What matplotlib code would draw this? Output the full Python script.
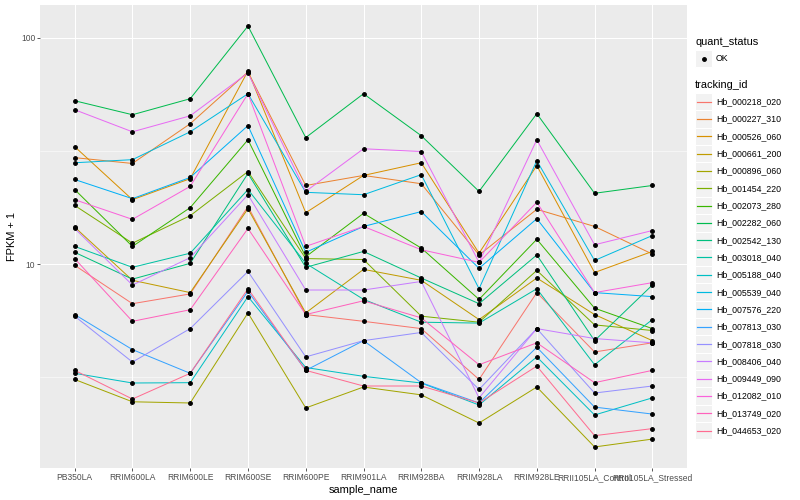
import numpy as np
import matplotlib
matplotlib.use('Agg')
import matplotlib.pyplot as plt
from matplotlib.lines import Line2D
from matplotlib.patches import Rectangle
from matplotlib.ticker import FixedLocator, NullFormatter

plt.rcParams['font.family'] = ['Liberation Sans', 'DejaVu Sans']

samples = ['PB350LA', 'RRIM600LA', 'RRIM600LE', 'RRIM600SE', 'RRIM600PE', 'RRIM901LA',
           'RRIM928BA', 'RRIM928LA', 'RRIM928LE', 'RRII105LA_Control', 'RRII105LA_Stressed']

tracking_ids = ['Hb_000218_020', 'Hb_000227_310', 'Hb_000526_060', 'Hb_000661_200',
                'Hb_000896_060', 'Hb_001454_220', 'Hb_002073_280', 'Hb_002282_060',
                'Hb_002542_130', 'Hb_003018_040', 'Hb_005188_040', 'Hb_005539_040',
                'Hb_007576_220', 'Hb_007813_030', 'Hb_007818_030', 'Hb_008406_040',
                'Hb_009449_090', 'Hb_012082_010', 'Hb_013749_020', 'Hb_044653_020']

# FPKM + 1, one list per gene, in sample order
hb_000218_020 = [9.9, 6.7, 7.4, 18.0, 6.0, 5.6, 5.2, 3.1, 7.5, 4.1, 4.5]
hb_000227_310 = [29.6, 27.9, 41.8, 70.8, 22.3, 24.7, 22.7, 11.0, 17.5, 14.7, 11.1]
hb_000526_060 = [33.1, 19.3, 23.9, 71.5, 16.9, 24.7, 28.1, 11.2, 27.3, 9.2, 11.4]
hb_000661_200 = [14.6, 8.5, 7.5, 17.6, 6.1, 9.5, 8.5, 5.7, 8.7, 6.0, 4.6]
hb_000896_060 = [3.1, 2.47, 2.44, 6.1, 2.32, 2.87, 2.65, 1.99, 2.87, 1.56, 1.69]
hb_001454_220 = [18.2, 12.4, 16.4, 25.7, 10.6, 10.5, 5.9, 5.55, 9.4, 5.4, 5.1]
hb_002073_280 = [21.4, 12.0, 17.8, 35.5, 10.8, 16.8, 11.8, 7.0, 12.9, 6.4, 5.2]
hb_002282_060 = [52.8, 45.8, 53.9, 112.9, 36.3, 56.7, 37.0, 21.0, 46.3, 20.6, 22.3]
hb_002542_130 = [11.3, 8.6, 10.1, 25.2, 9.7, 11.4, 8.7, 6.7, 11.0, 4.6, 8.1]
hb_003018_040 = [12.0, 9.7, 11.2, 21.4, 10.1, 7.0, 5.55, 5.5, 7.8, 3.6, 5.7]
hb_005188_040 = [3.3, 2.99, 3.0, 7.2, 3.5, 3.2, 2.99, 2.39, 3.9, 2.16, 2.57]
hb_005539_040 = [28.1, 29.0, 38.5, 56.7, 20.8, 20.3, 24.9, 7.8, 28.7, 10.4, 13.4]
hb_007576_220 = [23.7, 19.5, 24.2, 41.0, 11.3, 14.7, 17.1, 9.6, 15.9, 7.5, 7.2]
hb_007813_030 = [6.0, 4.2, 3.3, 7.6, 3.4, 4.6, 3.0, 2.44, 4.3, 2.34, 2.18]
hb_007818_030 = [5.9, 3.7, 5.2, 9.3, 3.9, 4.6, 5.0, 2.8, 5.2, 2.7, 2.9]
hb_008406_040 = [14.4, 8.1, 10.7, 20.3, 7.7, 7.7, 8.4, 2.57, 5.2, 4.7, 4.5]
hb_009449_090 = [48.2, 38.5, 45.3, 70.1, 21.0, 32.4, 31.5, 10.2, 35.5, 12.2, 14.1]
hb_012082_010 = [19.3, 15.8, 22.1, 56.7, 12.0, 14.7, 11.6, 10.2, 18.8, 7.5, 8.3]
hb_013749_020 = [10.6, 5.6, 6.3, 14.4, 6.0, 6.9, 5.8, 3.6, 4.5, 3.0, 3.4]
hb_044653_020 = [3.4, 2.54, 3.3, 7.8, 3.4, 2.9, 2.9, 2.44, 3.55, 1.75, 1.88]

series = [hb_000218_020, hb_000227_310, hb_000526_060, hb_000661_200, hb_000896_060,
          hb_001454_220, hb_002073_280, hb_002282_060, hb_002542_130, hb_003018_040,
          hb_005188_040, hb_005539_040, hb_007576_220, hb_007813_030, hb_007818_030,
          hb_008406_040, hb_009449_090, hb_012082_010, hb_013749_020, hb_044653_020]

# ggplot2 default hue palette for 20 levels
colors = ['#F8766D', '#EA8331', '#D89000', '#C09B00', '#A3A500', '#7CAE00', '#39B600',
          '#00BB4E', '#00BF7D', '#00C1A3', '#00BFC4', '#00BAE0', '#00B0F6', '#35A2FF',
          '#9590FF', '#C77CFF', '#E76BF3', '#FA62DB', '#FF62BC', '#FF6C91']


class KeyHandler:
    """ggplot-like legend key: grey box with the line / point drawn on top."""
    def legend_artist(self, legend, orig_handle, fontsize, handlebox):
        x0, y0 = -handlebox.xdescent, -handlebox.ydescent
        w, h = handlebox.width, handlebox.height
        tr = handlebox.get_transform()
        box = Rectangle((x0, y0), w, h, facecolor='#F2F2F2', edgecolor='white',
                        lw=1.0, transform=tr)
        handlebox.add_artist(box)
        ym = y0 + h / 2
        if orig_handle.get_marker() not in (None, 'None', ''):
            mark = Line2D([x0 + w / 2], [ym], ls='none', marker='o', ms=3.8,
                          color='black', transform=tr)
            handlebox.add_artist(mark)
        else:
            line = Line2D([x0 + 1.5, x0 + w - 1.5], [ym, ym], color=orig_handle.get_color(),
                          lw=1.2, transform=tr)
            line.set_snap(True)
            handlebox.add_artist(line)
        return box


DPI = 72
fig = plt.figure(figsize=(800 / DPI, 500 / DPI), dpi=DPI)
ax = fig.add_axes([40 / 800, 1 - 468 / 500, 647 / 800, 463 / 500])
ax.set_facecolor('#EBEBEB')

x = np.arange(1, len(samples) + 1)
for vals, col in zip(series, colors):
    ax.plot(x, vals, color=col, lw=1.0, zorder=3)
for vals in series:
    ax.plot(x, vals, ls='none', marker='o', ms=3.8, color='black', zorder=4)

ax.set_yscale('log')
all_vals = np.concatenate([np.asarray(s) for s in series])
lo, hi = np.log10(all_vals.min()), np.log10(all_vals.max())
pad = (hi - lo) * 0.05
ax.set_ylim(10 ** (lo - pad), 10 ** (hi + pad))
ax.set_xlim(0.4, len(samples) + 0.6)

ax.yaxis.set_major_locator(FixedLocator([10, 100]))
ax.yaxis.set_minor_locator(FixedLocator([10 ** 0.5, 10 ** 1.5]))
ax.yaxis.set_minor_formatter(NullFormatter())
ax.set_yticklabels(['10', '100'])
ax.set_xticks(x)
ax.set_xticklabels(samples)

ax.grid(True, which='major', color='white', lw=1.07, zorder=0)
ax.grid(True, which='minor', axis='y', color='white', lw=0.5, zorder=0)
ax.set_axisbelow(True)
for sp in ax.spines.values():
    sp.set_visible(False)
ax.tick_params(which='major', length=2.75, width=0.8, color='#333333',
               labelsize=8.5, labelcolor='#4D4D4D', pad=2)
ax.tick_params(which='minor', length=0)

ax.set_xlabel('sample_name', fontsize=11, labelpad=3)
ax.set_ylabel('FPKM + 1', fontsize=11, labelpad=4)

legend_kw = dict(handler_map={Line2D: KeyHandler()}, loc='upper left', frameon=False,
                 fontsize=8.8, title_fontsize=11, handlelength=1.96, handleheight=2.65,
                 handletextpad=0.4, labelspacing=0, borderpad=0, borderaxespad=0,
                 alignment='left')

# quant_status legend
ok_handle = Line2D([], [], ls='none', marker='o', color='black')
leg1 = fig.legend([ok_handle], ['OK'], title='quant_status',
                  bbox_to_anchor=(695 / 800, 1 - 37 / 500), **legend_kw)
leg1._legend_box.sep = 3

# tracking_id legend
handles = [Line2D([], [], color=c) for c in colors]
leg2 = fig.legend(handles, tracking_ids, title='tracking_id',
                  bbox_to_anchor=(695 / 800, 1 - 80 / 500), **legend_kw)
leg2._legend_box.sep = 3

fig.savefig('out.png', dpi=DPI, facecolor='white')
